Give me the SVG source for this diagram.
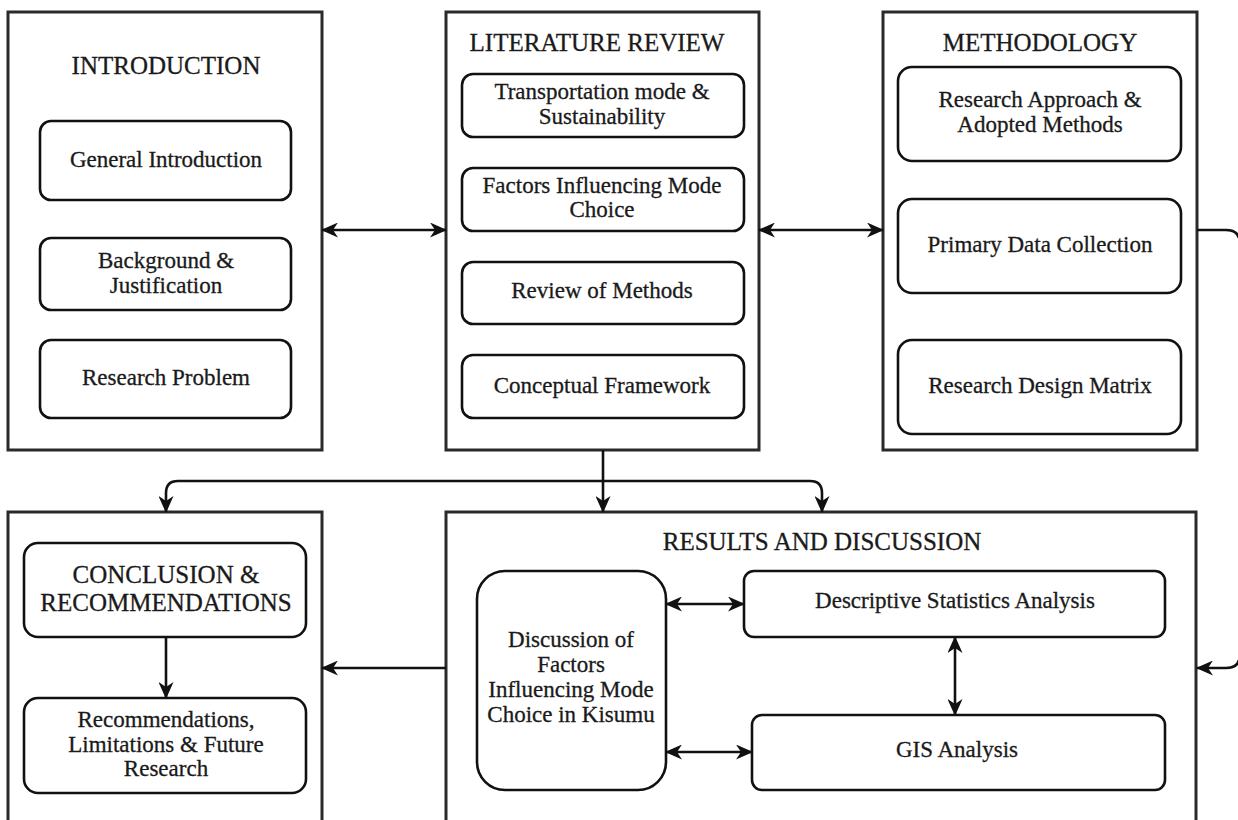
<svg xmlns="http://www.w3.org/2000/svg" width="1238" height="820" viewBox="0 0 1238 820">
<style>
.cont{fill:#fff;stroke:#2a2a2a;stroke-width:3}
.box{fill:#fff;stroke:#111;stroke-width:2.6}
.t{font-family:"Liberation Serif","Times New Roman",serif;font-size:23px;fill:#1a1a1a;stroke:#1a1a1a;stroke-width:0.3;text-anchor:middle}
.h{font-family:"Liberation Serif","Times New Roman",serif;font-size:25px;fill:#1a1a1a;stroke:#1a1a1a;stroke-width:0.3;text-anchor:middle}
.c{fill:none;stroke:#111;stroke-width:2.6}
</style>
<defs>
<marker id="ah" viewBox="0 0 17 15" refX="16" refY="7.5" markerWidth="17" markerHeight="15" markerUnits="userSpaceOnUse" orient="auto-start-reverse">
<path d="M0,0 L17,7.5 L0,15 L5,7.5 Z" fill="#111"/>
</marker>
</defs>
<rect width="1238" height="820" fill="#fff"/>

<g id="introduction">
<rect class="cont" x="8" y="12" width="314" height="438"/>
<text class="h" x="166" y="74">INTRODUCTION</text>
<g id="general-introduction"><rect class="box" x="40" y="121" width="251" height="79" rx="11"/><text class="t" x="166" y="167">General Introduction</text></g>
<g id="background"><rect class="box" x="40" y="238" width="251" height="72" rx="11"/><text class="t" x="166" y="268">Background &amp;</text><text class="t" x="166" y="293">Justification</text></g>
<g id="research-problem"><rect class="box" x="40" y="340" width="251" height="78" rx="11"/><text class="t" x="166" y="385">Research Problem</text></g>
</g>

<g id="literature-review">
<rect class="cont" x="446" y="12" width="313" height="438"/>
<text class="h" x="597" y="51">LITERATURE REVIEW</text>
<g id="transportation"><rect class="box" x="462" y="74" width="282" height="63" rx="11"/><text class="t" x="602" y="99">Transportation mode &amp;</text><text class="t" x="602" y="124">Sustainability</text></g>
<g id="factors"><rect class="box" x="462" y="168" width="282" height="63" rx="11"/><text class="t" x="602" y="193">Factors Influencing Mode</text><text class="t" x="602" y="217">Choice</text></g>
<g id="review-methods"><rect class="box" x="462" y="262" width="282" height="62" rx="11"/><text class="t" x="602" y="298">Review of Methods</text></g>
<g id="conceptual"><rect class="box" x="462" y="355" width="282" height="63" rx="11"/><text class="t" x="602" y="393">Conceptual Framework</text></g>
</g>

<g id="methodology">
<rect class="cont" x="883" y="12" width="314" height="438"/>
<text class="h" x="1040" y="51">METHODOLOGY</text>
<g id="approach"><rect class="box" x="898" y="67" width="283" height="94" rx="14"/><text class="t" x="1040" y="107">Research Approach &amp;</text><text class="t" x="1040" y="132">Adopted Methods</text></g>
<g id="primary-data"><rect class="box" x="898" y="199" width="283" height="94" rx="14"/><text class="t" x="1040" y="252">Primary Data Collection</text></g>
<g id="design-matrix"><rect class="box" x="898" y="340" width="283" height="94" rx="14"/><text class="t" x="1040" y="393">Research Design Matrix</text></g>
</g>

<g id="conclusion">
<rect class="cont" x="8" y="512" width="314" height="330"/>
<g id="conclusion-rec"><rect class="box" x="24" y="543" width="282" height="94" rx="14"/><text class="h" x="166" y="583">CONCLUSION &amp;</text><text class="h" x="166" y="611">RECOMMENDATIONS</text></g>
<g id="limitations"><rect class="box" x="24" y="698" width="282" height="95" rx="14"/><text class="t" x="166" y="727">Recommendations,</text><text class="t" x="166" y="752">Limitations &amp; Future</text><text class="t" x="166" y="776">Research</text></g>
</g>

<g id="results">
<rect class="cont" x="446" y="512" width="750" height="330"/>
<text class="h" x="822" y="550">RESULTS AND DISCUSSION</text>
<g id="discussion"><rect class="box" x="477" y="571" width="189" height="219" rx="28"/><text class="t" x="571" y="647">Discussion of</text><text class="t" x="571" y="672">Factors</text><text class="t" x="571" y="697">Influencing Mode</text><text class="t" x="571" y="722">Choice in Kisumu</text></g>
<g id="descriptive"><rect class="box" x="744" y="571" width="421" height="66" rx="10"/><text class="t" x="955" y="608">Descriptive Statistics Analysis</text></g>
<g id="gis"><rect class="box" x="752" y="715" width="413" height="75" rx="10"/><text class="t" x="957" y="757">GIS Analysis</text></g>
</g>

<g id="connectors">
<path class="c" d="M322,230 H446" marker-start="url(#ah)" marker-end="url(#ah)"/>
<path class="c" d="M759,230 H883" marker-start="url(#ah)" marker-end="url(#ah)"/>
<path class="c" d="M1197,230 H1226 Q1240,230 1240,244 V654 Q1240,668 1226,668 H1197" marker-end="url(#ah)"/>
<path class="c" d="M603,450 V512" marker-end="url(#ah)"/>
<path class="c" d="M166,512 V493 Q166,481 178,481 H810 Q822,481 822,493 V512" marker-start="url(#ah)" marker-end="url(#ah)"/>
<path class="c" d="M446,668 H322" marker-end="url(#ah)"/>
<path class="c" d="M166,637 V698" marker-end="url(#ah)"/>
<path class="c" d="M666,604 H744" marker-start="url(#ah)" marker-end="url(#ah)"/>
<path class="c" d="M666,752 H752" marker-start="url(#ah)" marker-end="url(#ah)"/>
<path class="c" d="M955,637 V715" marker-start="url(#ah)" marker-end="url(#ah)"/>
</g>
</svg>
